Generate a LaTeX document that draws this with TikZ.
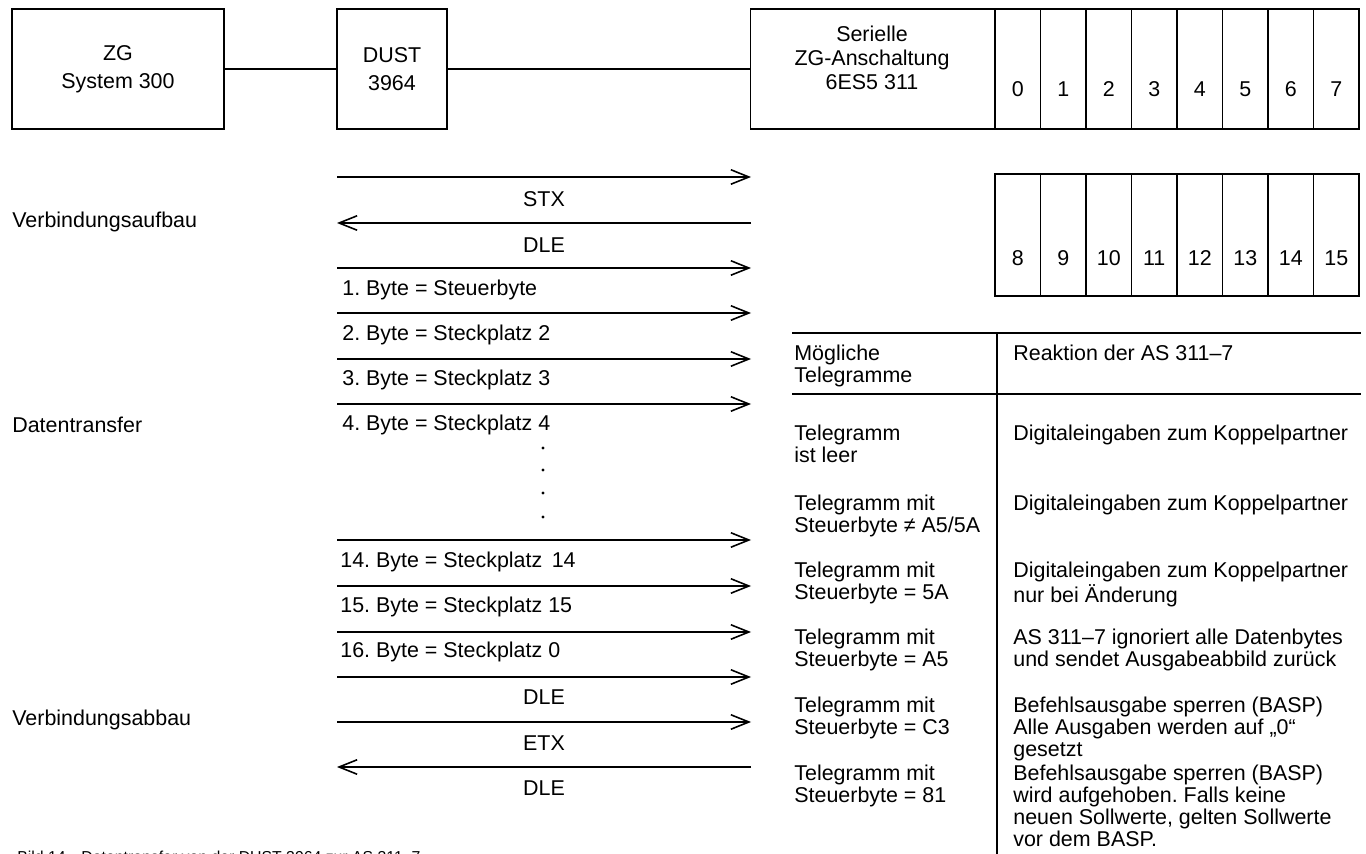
\documentclass[tikz,border=0pt]{standalone}
\usepackage{fontspec}
\setmainfont{Liberation Sans}
\frenchspacing
\usetikzlibrary{arrows.meta,positioning}

\tikzset{
  box/.style={draw, line width=0.6pt, inner sep=0pt, outer sep=0pt, align=center, minimum height=2.4cm},
  cell/.style={draw, line width=0.6pt, inner sep=0pt, outer sep=0pt, minimum width=0.91cm},
  msg/.style={line width=0.9pt, -{Straight Barb[length=3.6mm,width=2.9mm]}},
  tab/.style={line width=0.8pt},
  lbl/.style={inner sep=0pt, anchor=west},
  txt/.style={inner sep=0pt, anchor=north west, align=left},
}

\begin{document}
\begin{tikzpicture}[x=0.02cm, y=-0.02cm, font=\fontsize{12.2}{12.4}\selectfont]
\useasboundingbox (0,0) rectangle (1366,854);
% top row: ZG -- DUST -- serial interface with slots 0..7
\node[box, minimum width=4.24cm, font=\fontsize{12.2}{16}\selectfont] (zg) at (118,69) {ZG\\System 300};
\node[box, minimum width=2.2cm, font=\fontsize{12.2}{16}\selectfont] (dust) at (392,69) {DUST\\3964};
\node[box, minimum width=4.9cm] (ser) at (872.5,69) {};
\node[inner sep=0pt, align=center, font=\fontsize{12.2}{13.6}\selectfont] (sertxt) at (872,58) {Serielle\\ZG-Anschaltung\\6ES5 311};
\draw[line width=0.6pt] (zg) -- (dust);
\draw[line width=0.6pt] (dust) -- (ser);
\foreach \i in {0,...,7}{
  \pgfmathtruncatemacro\k{\i+8}
  \node[cell, minimum height=2.4cm] (s\i) at ({1017.75+45.5*\i},69) {};
  \node[inner sep=0pt] (n\i) at ({1017.75+45.5*\i},89) {\i};
  \node[cell, minimum height=2.44cm] (s\k) at ({1017.75+45.5*\i},235) {};
  \node[inner sep=0pt] (n\k) at ({1017.75+45.5*\i},258) {\k};
}
% message arrows between DUST and AS
\foreach \y [count=\i] in {177,223,268,313,359,404,540,586,632,677,722,767}{
  \coordinate (l\i) at (337,\y);
  \coordinate (r\i) at (751,\y);
}
\foreach \i in {1,3,4,5,6,7,8,9,10,11} \draw[msg] (l\i) -- (r\i);
\foreach \i in {2,12} \draw[msg] (r\i) -- (l\i);
\node (stx) at (544,199) {STX};
\node (dle1) at (544,245) {DLE};
\node[lbl] (b1) at (342,290) {1. Byte = Steuerbyte};
\node[lbl] (b2) at (342,335) {2. Byte = Steckplatz 2};
\node[lbl] (b3) at (342,380) {3. Byte = Steckplatz 3};
\node[lbl] (b4) at (342,425) {4. Byte = Steckplatz 4};
\foreach \y in {448,470,493,517} \fill (543,\y) circle[radius=0.9pt];
\node[lbl] (b14) at (340,562) {14. Byte = Steckplatz\, 14};
\node[lbl] (b15) at (340,607) {15. Byte = Steckplatz 15};
\node[lbl] (b16) at (340,652) {16. Byte = Steckplatz 0};
\node (dle2) at (544,697) {DLE};
\node (etx) at (544,743) {ETX};
\node (dle3) at (544,788) {DLE};
% phases
\node[lbl] (ph1) at (12,222) {Verbindungsaufbau};
\node[lbl] (ph2) at (12,425) {Datentransfer};
\node[lbl] (ph3) at (12,720) {Verbindungsabbau};
% table of telegrams
\draw[tab] (792,333) -- (1361,333);
\draw[tab] (792,394) -- (1361,394);
\draw[tab] (997,333) -- (997,854);
\node[txt] (t0) at (794,345) {Mögliche\\Telegramme};
\node[txt] (a0) at (1013,345) {Reaktion der AS 311–7};
\node[txt] (t1) at (794,425) {Telegramm\\ist leer};
\node[txt] (a1) at (1013,425) {Digitaleingaben zum Koppelpartner};
\node[txt] (t2) at (794,495) {Telegramm mit\\Steuerbyte ≠ A5/5A};
\node[txt] (a2) at (1013,495) {Digitaleingaben zum Koppelpartner};
\node[txt] (t3) at (794,562) {Telegramm mit\\Steuerbyte = 5A};
\node[txt] (a3) at (1013,562) {Digitaleingaben zum Koppelpartner\\nur bei Änderung};
\node[txt] (t4) at (794,629) {Telegramm mit\\Steuerbyte = A5};
\node[txt] (a4) at (1013,629) {AS 311–7 ignoriert alle Datenbytes\\und sendet Ausgabeabbild zurück};
\node[txt] (t5) at (794,697) {Telegramm mit\\Steuerbyte = C3};
\node[txt] (a5) at (1013,697) {Befehlsausgabe sperren (BASP)\\Alle Ausgaben werden auf „0“\\gesetzt};
\node[txt] (t6) at (794,765) {Telegramm mit\\Steuerbyte = 81};
\node[txt] (a6) at (1013,765) {Befehlsausgabe sperren (BASP)\\wird aufgehoben. Falls keine\\neuen Sollwerte, gelten Sollwerte\\vor dem BASP.};
% caption, cut by the page edge
\node[lbl, font=\fontsize{9}{10}\selectfont] (cap) at (17,857) {Bild 14\quad Datentransfer von der DUST 3964 zur AS 311–7};
\end{tikzpicture}
\end{document}
